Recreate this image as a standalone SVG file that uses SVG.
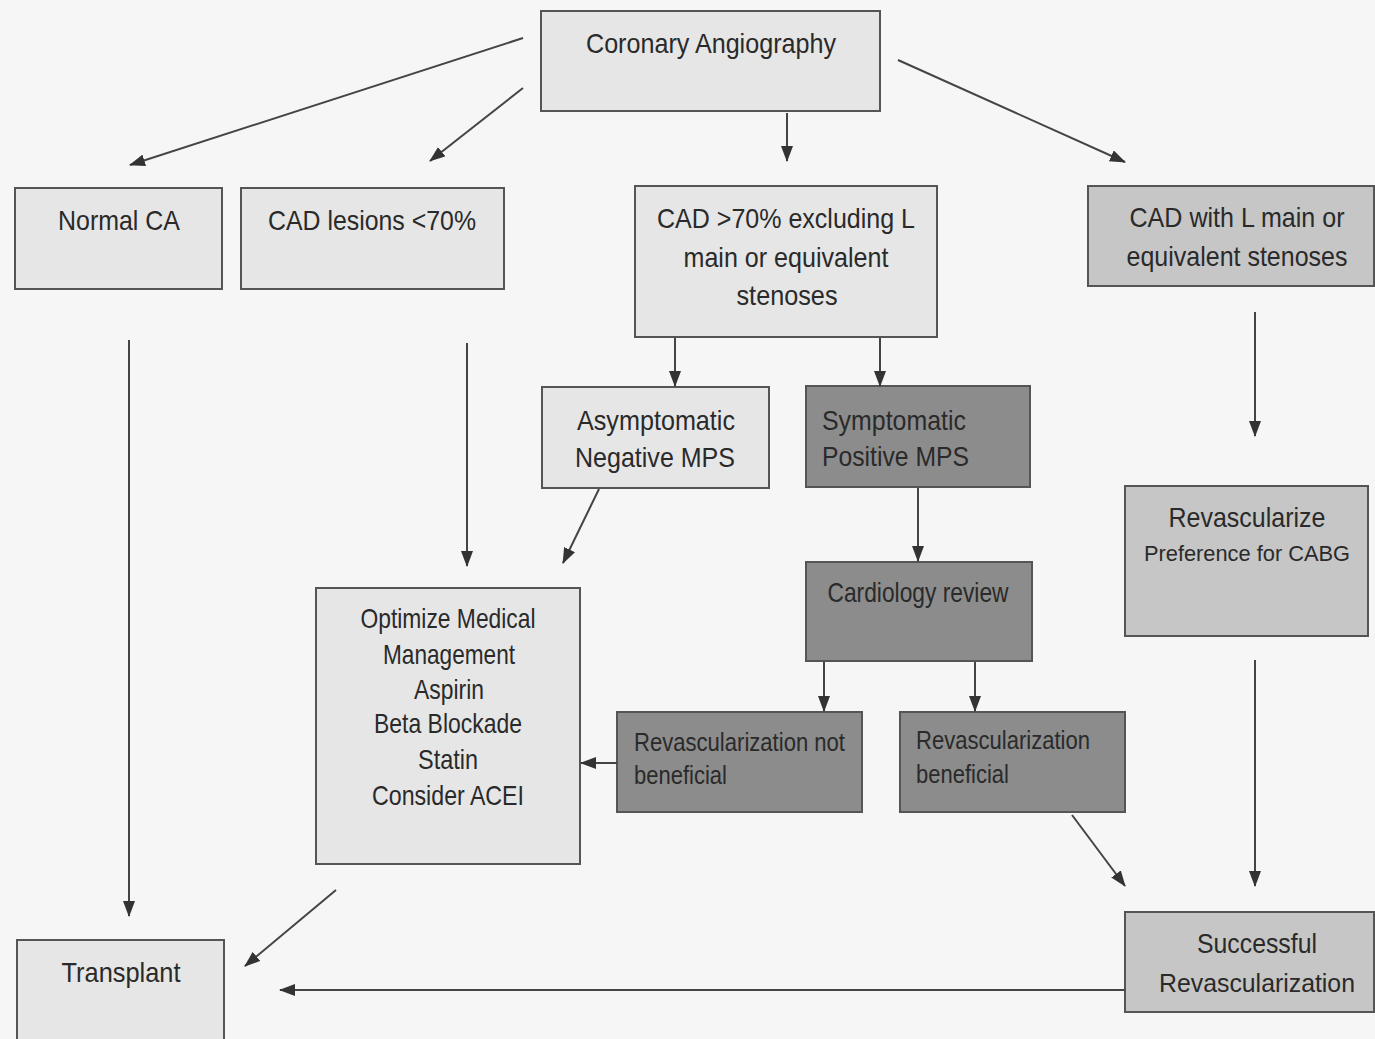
<svg xmlns="http://www.w3.org/2000/svg" width="1375" height="1039" viewBox="0 0 1375 1039">
<defs>
<marker id="ah" viewBox="0 0 16 12" refX="15" refY="6" markerWidth="16" markerHeight="12" markerUnits="userSpaceOnUse" orient="auto">
<path d="M0,0 L16,6 L0,12 Z" fill="#333"/>
</marker>
<style>
.box{stroke:#555;stroke-width:2}
.light{fill:#e6e6e6}
.mid{fill:#c6c6c6}
.dark{fill:#8c8c8c}
.t{font-family:"Liberation Sans",Arial,sans-serif;font-size:28px;fill:#2a2a2a}
.s{font-size:25px}
.xs{font-size:22px}
.c{text-anchor:middle}
.conn line{stroke:#444;stroke-width:2;marker-end:url(#ah)}
</style>
</defs>
<rect width="1375" height="1039" fill="#f6f6f6"/>

<g id="coronary-angiography">
<rect class="box light" x="541" y="11" width="339" height="100"/>
<text class="t c" x="711" y="53" textLength="250" lengthAdjust="spacingAndGlyphs">Coronary Angiography</text>
</g>
<g id="normal-ca">
<rect class="box light" x="15" y="188" width="207" height="101"/>
<text class="t c" x="119" y="230" textLength="122" lengthAdjust="spacingAndGlyphs">Normal CA</text>
</g>
<g id="cad-lesions">
<rect class="box light" x="241" y="188" width="263" height="101"/>
<text class="t c" x="372" y="230" textLength="208" lengthAdjust="spacingAndGlyphs">CAD lesions &lt;70%</text>
</g>
<g id="cad-over-70">
<rect class="box light" x="635" y="186" width="302" height="151"/>
<text class="t c" x="786" y="228" textLength="258" lengthAdjust="spacingAndGlyphs">CAD &gt;70% excluding L</text>
<text class="t c" x="786" y="267" textLength="205" lengthAdjust="spacingAndGlyphs">main or equivalent</text>
<text class="t c" x="787" y="305" textLength="101" lengthAdjust="spacingAndGlyphs">stenoses</text>
</g>
<g id="cad-l-main">
<rect class="box mid" x="1088" y="186" width="286" height="100"/>
<text class="t c" x="1237" y="227" textLength="215" lengthAdjust="spacingAndGlyphs">CAD with L main or</text>
<text class="t c" x="1237" y="266" textLength="221" lengthAdjust="spacingAndGlyphs">equivalent stenoses</text>
</g>
<g id="asymptomatic">
<rect class="box light" x="542" y="387" width="227" height="101"/>
<text class="t c" x="656" y="430" textLength="158" lengthAdjust="spacingAndGlyphs">Asymptomatic</text>
<text class="t c" x="655" y="467" textLength="160" lengthAdjust="spacingAndGlyphs">Negative MPS</text>
</g>
<g id="symptomatic">
<rect class="box dark" x="806" y="386" width="224" height="101"/>
<text class="t" x="822" y="430" textLength="144" lengthAdjust="spacingAndGlyphs">Symptomatic</text>
<text class="t" x="822" y="466" textLength="147" lengthAdjust="spacingAndGlyphs">Positive MPS</text>
</g>
<g id="cardiology-review">
<rect class="box dark" x="806" y="562" width="226" height="99"/>
<text class="t c" x="918" y="602" textLength="181" lengthAdjust="spacingAndGlyphs">Cardiology review</text>
</g>
<g id="revascularize">
<rect class="box mid" x="1125" y="486" width="243" height="150"/>
<text class="t c" x="1247" y="527" textLength="157" lengthAdjust="spacingAndGlyphs">Revascularize</text>
<text class="t xs c" x="1247" y="561" textLength="206" lengthAdjust="spacingAndGlyphs">Preference for CABG</text>
</g>
<g id="optimize">
<rect class="box light" x="316" y="588" width="264" height="276"/>
<text class="t c" x="448" y="628" textLength="175" lengthAdjust="spacingAndGlyphs">Optimize Medical</text>
<text class="t c" x="449" y="664" textLength="132" lengthAdjust="spacingAndGlyphs">Management</text>
<text class="t c" x="449" y="699" textLength="70" lengthAdjust="spacingAndGlyphs">Aspirin</text>
<text class="t c" x="448" y="733" textLength="148" lengthAdjust="spacingAndGlyphs">Beta Blockade</text>
<text class="t c" x="448" y="769" textLength="60" lengthAdjust="spacingAndGlyphs">Statin</text>
<text class="t c" x="448" y="805" textLength="152" lengthAdjust="spacingAndGlyphs">Consider ACEI</text>
</g>
<g id="revasc-not-beneficial">
<rect class="box dark" x="617" y="712" width="245" height="100"/>
<text class="t s" x="634" y="751" textLength="211" lengthAdjust="spacingAndGlyphs">Revascularization not</text>
<text class="t s" x="634" y="784" textLength="93" lengthAdjust="spacingAndGlyphs">beneficial</text>
</g>
<g id="revasc-beneficial">
<rect class="box dark" x="900" y="712" width="225" height="100"/>
<text class="t s" x="916" y="749" textLength="174" lengthAdjust="spacingAndGlyphs">Revascularization</text>
<text class="t s" x="916" y="783" textLength="93" lengthAdjust="spacingAndGlyphs">beneficial</text>
</g>
<g id="transplant">
<rect class="box light" x="17" y="940" width="207" height="110"/>
<text class="t c" x="121" y="982" textLength="119" lengthAdjust="spacingAndGlyphs">Transplant</text>
</g>
<g id="successful-revasc">
<rect class="box mid" x="1125" y="912" width="249" height="100"/>
<text class="t c" x="1257" y="953" textLength="120" lengthAdjust="spacingAndGlyphs">Successful</text>
<text class="t s c" x="1257" y="992" textLength="196" lengthAdjust="spacingAndGlyphs">Revascularization</text>
</g>

<g id="connectors" class="conn">
<line x1="523" y1="38" x2="130" y2="165"/>
<line x1="523" y1="88" x2="430" y2="161"/>
<line x1="787" y1="113" x2="787" y2="161"/>
<line x1="898" y1="60" x2="1125" y2="162"/>
<line x1="675" y1="338" x2="675" y2="386"/>
<line x1="880" y1="338" x2="880" y2="386"/>
<line x1="1255" y1="312" x2="1255" y2="436"/>
<line x1="129" y1="340" x2="129" y2="916"/>
<line x1="467" y1="343" x2="467" y2="566"/>
<line x1="599" y1="489" x2="563" y2="563"/>
<line x1="918" y1="488" x2="918" y2="561"/>
<line x1="824" y1="662" x2="824" y2="711"/>
<line x1="975" y1="662" x2="975" y2="711"/>
<line x1="617" y1="763" x2="581" y2="763"/>
<line x1="1072" y1="815" x2="1125" y2="886"/>
<line x1="1255" y1="660" x2="1255" y2="886"/>
<line x1="336" y1="890" x2="245" y2="966"/>
<line x1="1125" y1="990" x2="280" y2="990"/>
</g>
</svg>
